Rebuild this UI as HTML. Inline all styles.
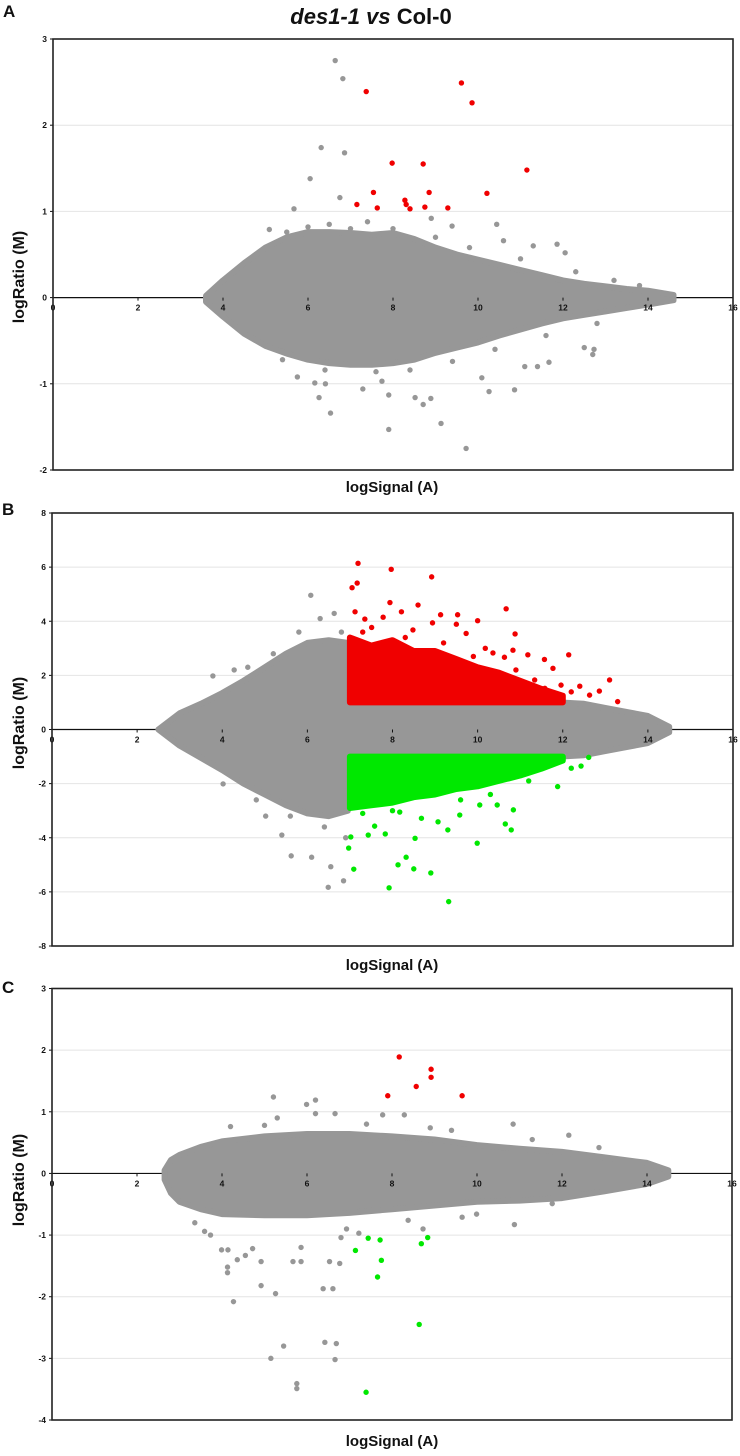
<!DOCTYPE html>
<html><head><meta charset="utf-8">
<style>
html,body{margin:0;padding:0;background:#fff;}
body{width:740px;height:1451px;overflow:hidden;font-family:"Liberation Sans",Arial,sans-serif;}
svg text{font-family:"Liberation Sans",Arial,sans-serif;font-weight:bold;fill:#111;}
</style></head>
<body>
<svg id="fig" width="740" height="1451" viewBox="0 0 740 1451" xmlns="http://www.w3.org/2000/svg">
<text x="371" y="24" text-anchor="middle" font-size="22"><tspan font-style="italic">des1-1 vs</tspan> Col-0</text>
</svg>
<script>
// ---------- data: panel A ----------
var aEnvA = [3.6,4,4.5,5,5.5,6,6.5,7,7.5,8,8.5,9,9.5,10,10.5,11,11.5,12,12.5,13,13.5,14,14.6];
var aEnvUp = [0.02,0.2,0.4,0.58,0.7,0.76,0.76,0.75,0.73,0.75,0.68,0.58,0.5,0.44,0.38,0.32,0.26,0.2,0.16,0.13,0.1,0.08,0.03];
var aEnvLo = [-0.05,-0.22,-0.42,-0.56,-0.65,-0.72,-0.76,-0.78,-0.78,-0.76,-0.72,-0.64,-0.58,-0.52,-0.44,-0.37,-0.3,-0.24,-0.2,-0.16,-0.12,-0.08,-0.03];
var aGrayX = [6.64,6.82,6.31,6.86,6.05,6.75,5.67,5.09,10.44,7.9,9.72,9.13,6.53,6.26,10.86,10.26,7.29,8.71,11.86,12.05,12.7,12.73,12.5,11.67,11.4,11.1,5.75,6.16,6.41,7.74,8.52,8.89,10.09,7.9,9.39,6.5,7.4,8.9,10.6,11.3,5.5,6.0,7.0,8.0,9.0,9.8,11.0,12.3,13.2,13.8,5.4,6.4,7.6,8.4,9.4,10.4,11.6,12.8];
var aGrayY = [2.75,2.54,1.74,1.68,1.38,1.16,1.03,0.79,0.85,-1.53,-1.75,-1.46,-1.34,-1.16,-1.07,-1.09,-1.06,-1.24,0.62,0.52,-0.66,-0.6,-0.58,-0.75,-0.8,-0.8,-0.92,-0.99,-1.0,-0.97,-1.16,-1.17,-0.93,-1.13,0.83,0.85,0.88,0.92,0.66,0.6,0.76,0.82,0.8,0.8,0.7,0.58,0.45,0.3,0.2,0.14,-0.72,-0.84,-0.86,-0.84,-0.74,-0.6,-0.44,-0.3];
var aRedX = [7.37,9.61,9.86,7.98,8.71,11.15,7.54,8.85,10.21,7.15,7.63,8.28,8.31,8.4,8.75,9.29];
var aRedY = [2.39,2.49,2.26,1.56,1.55,1.48,1.22,1.22,1.21,1.08,1.04,1.13,1.08,1.03,1.05,1.04];
// ---------- data: panel B ----------
var bEnvA = [2.5,3,3.5,4,4.5,5,5.5,6,6.5,6.95,7,8,9,10,11,11.9,12.5,13,13.5,14,14.5];
var bEnvUp = [0,0.6,0.95,1.35,1.8,2.3,2.8,3.2,3.3,3.2,1,1,1,1,1,1,0.95,0.8,0.65,0.5,0.1];
var bEnvLo = [0,-0.6,-1.05,-1.5,-2.0,-2.4,-2.8,-3.1,-3.2,-3.0,-1,-1,-1,-1,-1,-1,-0.95,-0.8,-0.65,-0.5,-0.1];
var bRedEnvA = [7,7.5,8,8.5,9,9.5,10,10.5,11,11.5,12];
var bRedEnvUp = [3.4,3.1,3.3,2.9,2.9,2.6,2.3,2.1,1.8,1.5,1.25];
var bGreenEnvLo = [-2.9,-2.8,-2.7,-2.5,-2.4,-2.2,-2.1,-1.9,-1.7,-1.45,-1.15];
var bGrayX = [6.08,6.63,6.49,6.85,5.62,6.55,6.1,5.02,4.02,3.78,4.28,6.8,6.9,5.4,6.3,4.6,5.2,5.8,4.8,5.6,6.4];
var bGrayY = [4.96,4.29,-5.83,-5.59,-4.67,-5.07,-4.72,-3.2,-2.01,1.98,2.2,3.6,-4.0,-3.9,4.1,2.3,2.8,3.6,-2.6,-3.2,-3.6];
var bRedX = [7.19,7.97,8.92,7.17,7.05,7.94,8.6,10.67,7.12,9.13,9.53,10.0,7.78,8.21,10.88,12.14,13.1,13.29,12.86,11.18,11.57,11.77,11.96,12.63,12.2,10.83,10.36,9.5,9.73,8.94,8.48,7.35,7.51,10.63,10.18,11.34,11.58,7.3,8.3,9.2,9.9,10.9,12.4];
var bRedY = [6.14,5.92,5.64,5.41,5.24,4.69,4.6,4.46,4.35,4.24,4.24,4.02,4.15,4.35,3.53,2.76,1.83,1.03,1.42,2.76,2.59,2.26,1.64,1.27,1.39,2.93,2.83,3.89,3.55,3.94,3.68,4.08,3.77,2.67,3.0,1.83,1.52,3.6,3.4,3.2,2.7,2.2,1.6];
var bGreenX = [9.32,7.92,8.9,8.13,8.32,8.5,7.09,6.97,9.99,7.02,10.79,10.65,9.3,8.53,7.83,7.43,7.58,9.58,10.84,11.88,12.2,12.43,12.61,10.46,10.05,9.07,8.68,8.17,7.3,8.0,9.6,10.3,11.2];
var bGreenY = [-6.36,-5.85,-5.3,-5.0,-4.72,-5.15,-5.16,-4.38,-4.2,-3.97,-3.71,-3.49,-3.71,-4.02,-3.86,-3.9,-3.57,-3.16,-2.97,-2.11,-1.43,-1.35,-1.03,-2.79,-2.79,-3.41,-3.28,-3.05,-3.1,-3.0,-2.6,-2.4,-1.9];
// ---------- data: panel C ----------
var cEnvA = [2.65,2.8,3,3.5,4,5,6,7,8,9,10,11,12,13,14,14.5];
var cEnvUp = [0.05,0.22,0.3,0.43,0.52,0.6,0.64,0.64,0.6,0.55,0.46,0.4,0.35,0.26,0.17,0.05];
var cEnvLo = [-0.1,-0.32,-0.46,-0.58,-0.66,-0.68,-0.68,-0.64,-0.58,-0.52,-0.46,-0.44,-0.4,-0.29,-0.17,-0.05];
var cGrayX = [5.76,5.76,5.15,5.45,6.42,6.69,6.66,4.27,5.26,4.92,6.38,6.61,4.13,4.13,3.99,4.14,4.36,4.55,4.72,4.92,5.67,5.86,5.86,6.53,6.77,5.21,5.99,6.2,5.3,6.2,6.66,7.78,8.29,10.85,12.16,12.87,3.36,3.59,3.73,10.88,9.99,9.65,11.77,8.73,8.38,6.8,7.22,6.93,4.2,5.0,7.4,8.9,9.4,11.3];
var cGrayY = [-3.41,-3.49,-3.0,-2.8,-2.74,-2.76,-3.02,-2.08,-1.95,-1.82,-1.87,-1.87,-1.61,-1.52,-1.24,-1.24,-1.4,-1.33,-1.22,-1.43,-1.43,-1.43,-1.2,-1.43,-1.46,1.24,1.12,1.19,0.9,0.97,0.97,0.95,0.95,0.8,0.62,0.42,-0.8,-0.94,-1.0,-0.83,-0.66,-0.71,-0.49,-0.9,-0.76,-1.04,-0.97,-0.9,0.76,0.78,0.8,0.74,0.7,0.55];
var cRedX = [8.17,8.92,8.92,8.57,7.9,9.65];
var cRedY = [1.89,1.69,1.56,1.41,1.26,1.26];
var cGreenX = [7.39,8.64,7.66,7.75,7.14,7.44,7.72,8.69,8.84];
var cGreenY = [-3.55,-2.45,-1.68,-1.41,-1.25,-1.05,-1.08,-1.14,-1.04];
// ---------- tick labels ----------
var xTicks = [0,2,4,6,8,10,12,14,16];
var aYTicks = [3,2,1,0,-1,-2];
var bYTicks = [8,6,4,2,0,-2,-4,-6,-8];
var cYTicks = [3,2,1,0,-1,-2,-3,-4];

var NS = 'http://www.w3.org/2000/svg';
var fig = document.getElementById('fig');
var GRAY = '#979797', RED = '#f00000', GREEN = '#00e800';
function mk(tag, attrs, parent) {
  var e = document.createElementNS(NS, tag);
  for (var k in attrs) e.setAttribute(k, attrs[k]);
  (parent || fig).appendChild(e);
  return e;
}
function drawPanel(p) {
  var g = mk('g', {});
  
  
  var L = p.left, R = p.right, T = p.top, B = p.bottom;
  function sx(a) { return L + (a - 0) / 16 * (R - L); }
  function sy(m) { return T + (p.ymax - m) / (p.ymax - p.ymin) * (B - T); }
  p.yTicks.forEach(function (v) {
    if (v === p.ymax || v === p.ymin || v === 0) return;
    var gl = mk('line', { x1: L, x2: R, y1: sy(v), y2: sy(v), stroke: '#e4e4e4', 'stroke-width': 1 }, g);
    
    
  });
  var za = mk('line', { x1: L, x2: R, y1: sy(0), y2: sy(0), stroke: '#111', 'stroke-width': 1.2 }, g);
  
  
  function env(xs, up, lo, color, name) {
    var d = '';
    for (var i = 0; i < xs.length; i++) d += (i ? 'L' : 'M') + sx(xs[i]).toFixed(1) + ',' + sy(up[i]).toFixed(1);
    for (var j = xs.length - 1; j >= 0; j--) d += 'L' + sx(xs[j]).toFixed(1) + ',' + sy(lo[j]).toFixed(1);
    d += 'Z';
    var e = mk('path', { d: d, fill: color, stroke: color, 'stroke-width': 6, 'stroke-linejoin': 'round' }, g);
    
    
  }
  function pts(xs, ys, color, name) {
    for (var i = 0; i < xs.length; i++) {
      var c = mk('circle', { cx: sx(xs[i]), cy: sy(ys[i]), r: 2.7, fill: color }, g);
      
      
    }
  }
  env(p.envA, p.envUp, p.envLo, GRAY, 'gray-point-cloud');
  pts(p.grayX, p.grayY, GRAY, 'gray-point');
  if (p.redEnvA) {
    env(p.redEnvA, p.redEnvUp, p.redEnvA.map(function () { return 1; }), RED, 'red-point-cloud');
    env(p.redEnvA, p.redEnvA.map(function () { return -1; }), p.greenEnvLo, GREEN, 'green-point-cloud');
  }
  pts(p.redX, p.redY, RED, 'red-point');
  pts(p.greenX, p.greenY, GREEN, 'green-point');
  xTicks.forEach(function (v) {
    var tk = mk('line', { x1: sx(v), x2: sx(v), y1: sy(0), y2: sy(0) + 3, stroke: '#111', 'stroke-width': 1 }, g);
    
    
    var t = mk('text', { x: sx(v), y: sy(0) + 13, 'text-anchor': 'middle', 'font-size': 8.5 }, g);
    t.textContent = v;
    
    
  });
  p.yTicks.forEach(function (v) {
    var tk = mk('line', { x1: L - 3, x2: L, y1: sy(v), y2: sy(v), stroke: '#111', 'stroke-width': 1 }, g);
    
    
    var t = mk('text', { x: L - 6, y: sy(v) + 3, 'text-anchor': 'end', 'font-size': 8.5 }, g);
    t.textContent = v;
    
    
  });
  var fr = mk('rect', { x: L, y: T, width: R - L, height: B - T, fill: 'none', stroke: '#222', 'stroke-width': 1.6 }, g);
  
  
  var yt = mk('text', { x: 0, y: 0, 'text-anchor': 'middle', 'font-size': 16, transform: 'translate(24,' + p.yTitleY + ') rotate(-90)' }, g);
  yt.textContent = 'logRatio (M)';
  
  
  var xt = mk('text', { x: 392, y: p.xTitleY, 'text-anchor': 'middle', 'font-size': 15 }, g);
  xt.textContent = 'logSignal (A)';
  
  
  var pl = mk('text', { x: p.letterX, y: p.letterY, 'font-size': 17 }, g);
  pl.textContent = p.id;
  
  
}
drawPanel({ id: 'A', left: 53, right: 733, top: 39, bottom: 470, ymin: -2, ymax: 3, yTicks: aYTicks,
  envA: aEnvA, envUp: aEnvUp, envLo: aEnvLo, grayX: aGrayX, grayY: aGrayY, redX: aRedX, redY: aRedY, greenX: [], greenY: [],
  yTitleY: 277, xTitleY: 492, letterX: 3, letterY: 17 });
drawPanel({ id: 'B', left: 52, right: 733, top: 513, bottom: 946, ymin: -8, ymax: 8, yTicks: bYTicks,
  envA: bEnvA, envUp: bEnvUp, envLo: bEnvLo, grayX: bGrayX, grayY: bGrayY,
  redEnvA: bRedEnvA, redEnvUp: bRedEnvUp, greenEnvLo: bGreenEnvLo,
  redX: bRedX, redY: bRedY, greenX: bGreenX, greenY: bGreenY,
  yTitleY: 723, xTitleY: 970, letterX: 2, letterY: 515 });
drawPanel({ id: 'C', left: 52, right: 732, top: 988.5, bottom: 1420, ymin: -4, ymax: 3, yTicks: cYTicks,
  envA: cEnvA, envUp: cEnvUp, envLo: cEnvLo, grayX: cGrayX, grayY: cGrayY, redX: cRedX, redY: cRedY, greenX: cGreenX, greenY: cGreenY,
  yTitleY: 1180, xTitleY: 1446, letterX: 2, letterY: 993 });
</script>
</body></html>
